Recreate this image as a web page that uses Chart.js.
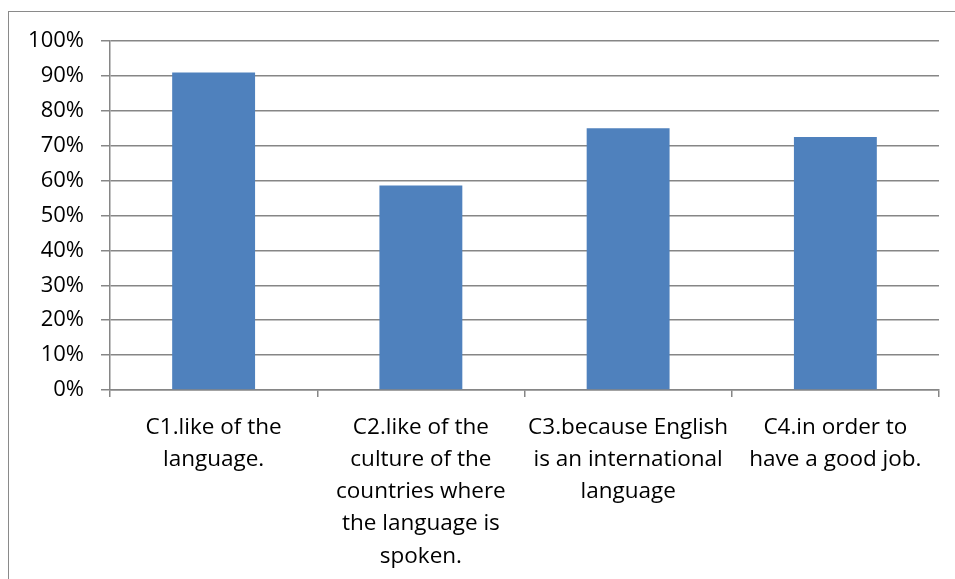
<!DOCTYPE html>
<html>
<head>
<meta charset="utf-8">
<script src="https://cdn.jsdelivr.net/npm/chart.js@4"></script>
<style>
  html, body { margin: 0; padding: 0; background: #fff; }
  #wrap { position: relative; width: 955px; height: 579px; overflow: hidden; }
  #frame { position: absolute; left: 8px; top: 11px; right: -5px; bottom: -5px; border-left: 1.5px solid #8a8a8a; border-top: 1.5px solid #8a8a8a; pointer-events: none; }
  canvas { position: absolute; left: 0; top: 0; }
</style>
</head>
<body>
<div id="wrap">
  <canvas id="c" width="955" height="579"></canvas>
  <div id="frame"></div>
</div>
<script>
const categories = [
  ["C1.like of the", "language."],
  ["C2.like of the", "culture of the", "countries where", "the language is", "spoken."],
  ["C3.because English", "is an international", "language"],
  ["C4.in order to", "have a good job."]
];
const values = [91, 58.6, 75, 72.5];
const yTicks = [0, 10, 20, 30, 40, 50, 60, 70, 80, 90, 100];

const FONT = "'Open Sans', sans-serif";

new Chart(document.getElementById('c'), {
  type: 'bar',
  data: {
    labels: categories,
    datasets: [{
      data: values,
      backgroundColor: '#4F81BD',
      borderWidth: 0,
      barPercentage: 0.4,
      categoryPercentage: 1
    }]
  },
  options: {
    responsive: false,
    animation: false,
    devicePixelRatio: 1,
    layout: { padding: { left: 0, right: 16, top: 41, bottom: 0 } },
    plugins: { legend: { display: false }, tooltip: { enabled: false } },
    scales: {
      x: {
        offset: true,
        grid: { offset: true, drawOnChartArea: false, drawTicks: true, tickLength: 7, color: '#868686', lineWidth: 1.5 },
        border: { display: true, color: '#868686', width: 1.5 },
        ticks: {
          color: '#000', maxRotation: 0, autoSkip: false, padding: 14,
          font: { family: FONT, size: 22.5, lineHeight: '32.3px' }
        },
        afterFit: (s) => { s.height = 189; }
      },
      y: {
        min: 0, max: 100,
        afterBuildTicks: (s) => { s.ticks = yTicks.map(v => ({ value: v })); },
        grid: { color: '#868686', lineWidth: 1.5, tickLength: 9 },
        border: { display: true, color: '#868686', width: 1.5 },
        ticks: {
          color: '#000', padding: 17,
          font: { family: FONT, size: 22 },
          callback: (v) => v + '%'
        },
        afterFit: (s) => { s.width = 110; }
      }
    }
  }
});
</script>
</body>
</html>
